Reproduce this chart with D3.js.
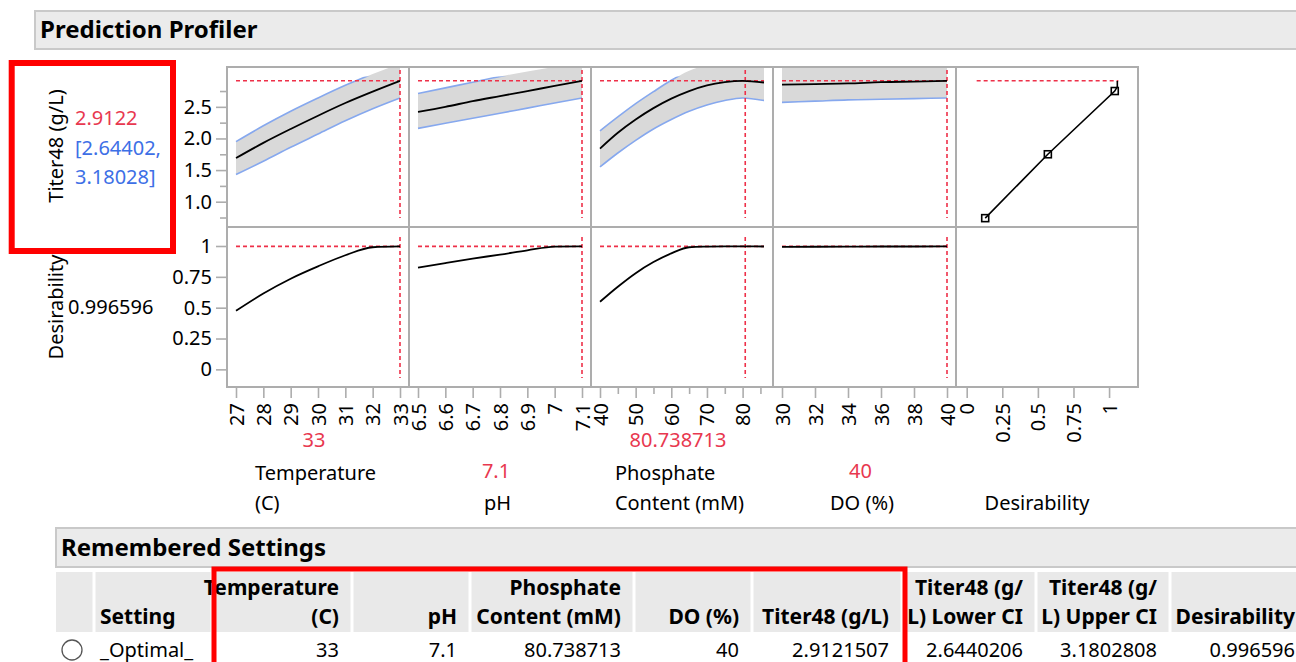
<!DOCTYPE html>
<html lang="en">
<head>
<meta charset="UTF-8">
<script src="https://cdn.jsdelivr.net/npm/d3@7"></script>
<style>
  body { margin: 0; background: #fff; }
  svg text { font-family: "Segoe UI", "Noto Sans", sans-serif; font-size: 20px; fill: #000; }
</style>
</head>
<body>
<svg width="1296" height="662"></svg>
<script>
// ---- profile traces ----
var temps     = [27, 28, 29, 30, 31, 32, 33];
var titerTemp = [1.69, 1.93, 2.15, 2.36, 2.56, 2.74, 2.91];
var lowerTemp = [1.43, 1.64, 1.86, 2.07, 2.28, 2.47, 2.64];
var upperTemp = [1.95, 2.20, 2.43, 2.64, 2.84, 3.02, 3.18];
var desTemp   = [0.475, 0.615, 0.735, 0.835, 0.925, 0.99, 0.997];

var phs     = [6.5, 6.6, 6.7, 6.8, 6.9, 7.0, 7.1];
var titerPh = [2.42, 2.50, 2.59, 2.67, 2.75, 2.83, 2.91];
var lowerPh = [2.16, 2.24, 2.32, 2.40, 2.48, 2.56, 2.64];
var upperPh = [2.71, 2.80, 2.89, 2.98, 3.06, 3.13, 3.18];
var desPh   = [0.824, 0.862, 0.898, 0.93, 0.965, 0.995, 0.997];

var phosphate = [40, 45, 50, 55, 60, 65, 70, 75, 80, 86];
var titerPhos = [1.84, 2.09, 2.30, 2.48, 2.63, 2.75, 2.84, 2.89, 2.91, 2.885];
var lowerPhos = [1.55, 1.77, 1.97, 2.15, 2.30, 2.43, 2.53, 2.60, 2.64, 2.60];
var upperPhos = [2.12, 2.34, 2.55, 2.74, 2.92, 3.07, 3.16, 3.20, 3.18, 3.17];
var desPhos   = [0.548, 0.67, 0.78, 0.87, 0.94, 0.99, 0.995, 0.997, 0.997, 0.996];

var dos     = [30, 32, 34, 36, 38, 40];
var titerDo = [2.85, 2.86, 2.87, 2.89, 2.90, 2.91];
var lowerDo = [2.57, 2.59, 2.61, 2.62, 2.63, 2.64];
var upperDo = [3.13, 3.14, 3.15, 3.16, 3.17, 3.18];
var desDo   = [0.993, 0.994, 0.995, 0.996, 0.996, 0.997];

// desirability function of Titer48 (last point = current titer)
var desirX = [0.13, 0.57, 1.04, 1.058, 1.058];
var desirY = [0.74, 1.75, 2.75, 2.82, 2.91];

// current settings
var factorNames  = [["Temperature", "(C)"], ["pH"], ["Phosphate", "Content (mM)"], ["DO (%)"]];
var currentVals  = [33, 7.1, 80.738713, 40];
var currentText  = ["33", "7.1", "80.738713", "40"];
var titerNow = 2.9122, titerLo = "2.64402,", titerHi = "3.18028]";
var desNow = 0.996596;

// tick values
var tickTemp = [27, 28, 29, 30, 31, 32, 33];
var tickPh   = [6.5, 6.6, 6.7, 6.8, 6.9, 7.0, 7.1];
var tickPhos = [40, 50, 60, 70, 80], minorPhos = [45, 55, 65, 75, 85];
var tickDo   = [30, 32, 34, 36, 38, 40];
var tickDes  = [0, 0.25, 0.5, 0.75, 1];
var tickTiter = [1.0, 1.5, 2.0, 2.5], minorTiter = [0.75, 1.25, 1.75, 2.25, 2.75];
var tickD    = [0, 0.25, 0.5, 0.75, 1];

// remembered settings table
var tableHead1 = ["", "", "Temperature", "", "Phosphate", "", "", "Titer48 (g/", "Titer48 (g/", ""];
var tableHead2 = ["", "Setting", "(C)", "pH", "Content (mM)", "DO (%)", "Titer48 (g/L)", "L) Lower CI", "L) Upper CI", "Desirability"];
var tableRow   = ["", "_Optimal_", "33", "7.1", "80.738713", "40", "2.9121507", "2.6440206", "3.1802808", "0.996596"];

// ---- layout ----
var RED = "#ee3049", REDTXT = "#e8384f", BLUE = "#3d6fe6", CI = "#86a8ee", GRID = "#adadad";
var svg = d3.select("svg");
var colEdges = [227, 409, 591, 773, 956, 1138];
var rowTop = 67, rowMid = 227, rowBot = 387;

var yTop = d3.scaleLinear().domain([0.6, 3.13]).range([rowMid, rowTop]);
var yBot = d3.scaleLinear().domain([-0.143, 1.154]).range([rowBot, rowMid]);

var factors = [
  {xs: temps, m: titerTemp, lo: lowerTemp, hi: upperTemp, d: desTemp, ticks: tickTemp, minor: []},
  {xs: phs, m: titerPh, lo: lowerPh, hi: upperPh, d: desPh, ticks: tickPh, minor: []},
  {xs: phosphate, m: titerPhos, lo: lowerPhos, hi: upperPhos, d: desPhos, ticks: tickPhos, minor: minorPhos},
  {xs: dos, m: titerDo, lo: lowerDo, hi: upperDo, d: desDo, ticks: tickDo, minor: []}
];

// header boxes
function outlineBox(x, y, w, h, label) {
  svg.append("rect").attr("x", x).attr("y", y).attr("width", w).attr("height", h)
     .attr("fill", "#ebebeb").attr("stroke", "#c9c9c9").attr("stroke-width", 2);
  svg.append("text").attr("x", x + 5).attr("y", y + h / 2).attr("dy", "0.35em")
     .style("font-weight", "bold").style("font-size", "24px").text(label);
}
outlineBox(35, 11, 1270, 38, "Prediction Profiler");

var defs = svg.append("defs");

factors.forEach(function(f, i) {
  var x0 = colEdges[i], x1 = colEdges[i + 1];
  var x = d3.scaleLinear().domain(d3.extent(f.xs)).range([x0 + 9, x1 - 9]);

  // frames
  [[rowTop, rowMid], [rowMid, rowBot]].forEach(function(r) {
    svg.append("rect").attr("x", x0).attr("y", r[0]).attr("width", x1 - x0).attr("height", r[1] - r[0])
       .attr("fill", "#fff").attr("stroke", GRID).attr("stroke-width", 2);
  });

  defs.append("clipPath").attr("id", "clipF" + i).append("rect")
      .attr("x", x0 + 1).attr("y", rowTop + 1).attr("width", x1 - x0 - 2).attr("height", rowMid - rowTop - 2);
  defs.append("clipPath").attr("id", "clipL" + i).append("rect")
      .attr("x", x0 + 1).attr("y", yTop(2.98)).attr("width", x1 - x0 - 2).attr("height", rowMid - yTop(2.98));

  var idx = d3.range(f.xs.length);
  var band = d3.area().curve(d3.curveMonotoneX)
      .x(function(k) { return x(f.xs[k]); })
      .y0(function(k) { return yTop(f.lo[k]); })
      .y1(function(k) { return yTop(f.hi[k]); });
  svg.append("path").attr("d", band(idx)).attr("fill", "#d9d9d9").attr("clip-path", "url(#clipF" + i + ")");

  var lineOf = function(arr, ys) {
    return d3.line().curve(d3.curveMonotoneX)
      .x(function(k) { return x(f.xs[k]); })
      .y(function(k) { return ys(arr[k]); })(idx);
  };
  [f.lo, f.hi].forEach(function(arr) {
    svg.append("path").attr("d", lineOf(arr, yTop)).attr("fill", "none")
       .attr("stroke", CI).attr("stroke-width", 1.6).attr("clip-path", "url(#clipL" + i + ")");
  });

  // red reference lines
  var xr = x(currentVals[i]);
  var dash = "4,3";
  svg.append("line").attr("x1", x.range()[0]).attr("x2", x.range()[1])
     .attr("y1", yTop(titerNow)).attr("y2", yTop(titerNow))
     .attr("stroke", RED).attr("stroke-width", 1.6).attr("stroke-dasharray", dash);
  svg.append("line").attr("x1", xr).attr("x2", xr).attr("y1", rowTop + 3).attr("y2", rowMid - 9)
     .attr("stroke", RED).attr("stroke-width", 1.6).attr("stroke-dasharray", dash);
  svg.append("line").attr("x1", x.range()[0]).attr("x2", x.range()[1])
     .attr("y1", yBot(desNow)).attr("y2", yBot(desNow))
     .attr("stroke", RED).attr("stroke-width", 1.6).attr("stroke-dasharray", dash);
  svg.append("line").attr("x1", xr).attr("x2", xr).attr("y1", rowMid + 10).attr("y2", rowBot - 9)
     .attr("stroke", RED).attr("stroke-width", 1.6).attr("stroke-dasharray", dash);

  svg.append("path").attr("d", lineOf(f.m, yTop)).attr("fill", "none")
     .attr("stroke", "#000").attr("stroke-width", 1.8);
  svg.append("path").attr("d", lineOf(f.d, yBot)).attr("fill", "none")
     .attr("stroke", "#000").attr("stroke-width", 1.8);

  // x axis
  var ax = svg.append("g").attr("transform", "translate(0," + (rowBot + 1) + ")")
     .call(d3.axisBottom(x).tickValues(f.ticks).tickSize(10).tickSizeOuter(0).tickFormat(d3.format("")));
  ax.select(".domain").remove();
  ax.selectAll("line").attr("stroke", GRID).attr("stroke-width", 1.6);
  ax.selectAll("text").attr("transform", "rotate(-90)").attr("text-anchor", "end")
     .attr("x", -15).attr("y", 0).attr("dy", "0.35em").style("font-size", "20px");
  var mn = svg.append("g").attr("transform", "translate(0," + (rowBot + 1) + ")")
     .call(d3.axisBottom(x).tickValues(f.minor).tickSize(6).tickSizeOuter(0).tickFormat(""));
  mn.select(".domain").remove();
  mn.selectAll("line").attr("stroke", GRID).attr("stroke-width", 1.6);

  // factor labels
  var cx = (x0 + x1) / 2 - 4;
  var even = (i % 2 === 0);
  svg.append("text").attr("x", cx).attr("y", even ? 447 : 478).attr("text-anchor", "middle")
     .style("fill", REDTXT).text(currentText[i]);
  var names = factorNames[i];
  var g = svg.append("g");
  var tl = names.map(function(s, j) {
    return g.append("text").attr("y", names.length === 2 ? 480 + 30 * j : 510).text(s);
  });
  var w = d3.max(tl, function(t) { return t.node().getComputedTextLength(); });
  tl.forEach(function(t) { t.attr("x", cx - w / 2 + 1.5); });
});

// ---- desirability column ----
(function() {
  var x0 = colEdges[4], x1 = colEdges[5];
  var x = d3.scaleLinear().domain([0, 1.14]).range([x0 + 10.7, x1 - 9]);
  [[rowTop, rowMid], [rowMid, rowBot]].forEach(function(r) {
    svg.append("rect").attr("x", x0).attr("y", r[0]).attr("width", x1 - x0).attr("height", r[1] - r[0])
       .attr("fill", "#fff").attr("stroke", GRID).attr("stroke-width", 2);
  });
  svg.append("line").attr("x1", x(0.07)).attr("x2", x(1.065))
     .attr("y1", yTop(titerNow)).attr("y2", yTop(titerNow))
     .attr("stroke", RED).attr("stroke-width", 1.6).attr("stroke-dasharray", "4,3");
  var pts = d3.range(desirX.length);
  svg.append("path").attr("fill", "none").attr("stroke", "#000").attr("stroke-width", 1.6)
     .attr("d", d3.line().x(function(k) { return x(desirX[k]); }).y(function(k) { return yTop(desirY[k]); })(pts));
  svg.selectAll(".dpt").data(pts.slice(0, 3)).enter().append("rect").attr("class", "dpt")
     .attr("x", function(k) { return x(desirX[k]) - 3.5; }).attr("y", function(k) { return yTop(desirY[k]) - 3.5; })
     .attr("width", 7).attr("height", 7).attr("fill", "none").attr("stroke", "#000").attr("stroke-width", 1.6);

  var ax = svg.append("g").attr("transform", "translate(0," + (rowBot + 1) + ")")
     .call(d3.axisBottom(x).tickValues(tickDes).tickSize(10).tickSizeOuter(0).tickFormat(d3.format("")));
  ax.select(".domain").remove();
  ax.selectAll("line").attr("stroke", GRID).attr("stroke-width", 1.6);
  ax.selectAll("text").attr("transform", "rotate(-90)").attr("text-anchor", "end")
     .attr("x", -15).attr("y", 0).attr("dy", "0.35em").style("font-size", "20px");
  svg.append("text").attr("x", 1037).attr("y", 510).attr("text-anchor", "middle").text("Desirability");
})();

// ---- y axes ----
function yAxis(scale, major, minor, fmt) {
  var a = svg.append("g").attr("transform", "translate(" + (colEdges[0] - 1) + ",0)")
     .call(d3.axisLeft(scale).tickValues(major).tickSize(10).tickSizeOuter(0).tickFormat(fmt));
  a.select(".domain").remove();
  a.selectAll("line").attr("stroke", GRID).attr("stroke-width", 1.6);
  a.selectAll("text").attr("x", -14).style("font-size", "20px");
  var b = svg.append("g").attr("transform", "translate(" + (colEdges[0] - 1) + ",0)")
     .call(d3.axisLeft(scale).tickValues(minor).tickSize(6).tickSizeOuter(0).tickFormat(""));
  b.select(".domain").remove();
  b.selectAll("line").attr("stroke", GRID).attr("stroke-width", 1.6);
}
yAxis(yTop, tickTiter, minorTiter, d3.format(".1f"));
yAxis(yBot, tickD, [], d3.format(""));

// ---- response labels ----
svg.append("text").attr("transform", "translate(56,146) rotate(-90)").attr("text-anchor", "middle")
   .attr("dy", "0.35em").text("Titer48 (g/L)");
svg.append("text").attr("x", 75).attr("y", 125).style("fill", REDTXT).text(d3.format(".4f")(titerNow));
svg.append("text").attr("x", 75).attr("y", 155).style("fill", BLUE).text("[" + titerLo);
svg.append("text").attr("x", 75).attr("y", 184).style("fill", BLUE).text(titerHi);
svg.append("text").attr("transform", "translate(56,307) rotate(-90)").attr("text-anchor", "middle")
   .attr("dy", "0.35em").text("Desirability");
svg.append("text").attr("x", 68).attr("y", 314).text(desNow);

// ---- remembered settings ----
outlineBox(56, 528, 1250, 39, "Remembered Settings");
var tcols = [56, 94, 212, 352, 470, 634, 752, 902, 1036, 1170, 1308];
svg.append("rect").attr("x", 56).attr("y", 572).attr("width", 1244).attr("height", 60).attr("fill", "#e9e9e9");
tcols.slice(1, -1).forEach(function(c) {
  svg.append("line").attr("x1", c).attr("x2", c).attr("y1", 572).attr("y2", 632)
     .attr("stroke", "#fff").attr("stroke-width", 3);
});
tableHead2.forEach(function(h, j) {
  if (j === 0) return;
  var left = j === 1;
  var xx = left ? tcols[j] + 6 : tcols[j + 1] - 13;
  var anchor = left ? "start" : "end";
  if (tableHead1[j]) {
    svg.append("text").attr("x", xx).attr("y", 595).attr("text-anchor", anchor)
       .style("font-weight", "bold").style("font-size", "21px").text(tableHead1[j]);
  }
  svg.append("text").attr("x", xx).attr("y", 624).attr("text-anchor", anchor)
     .style("font-weight", "bold").style("font-size", "21px").text(h);
  svg.append("text").attr("x", xx).attr("y", 657).attr("text-anchor", anchor).text(tableRow[j]);
});
svg.append("circle").attr("cx", 72).attr("cy", 650).attr("r", 10)
   .attr("fill", "#fff").attr("stroke", "#555").attr("stroke-width", 1.3);

// ---- red highlight boxes ----
svg.append("rect").attr("x", 11.7).attr("y", 63).attr("width", 161.3).attr("height", 188)
   .attr("fill", "none").attr("stroke", "#ff0000").attr("stroke-width", 6);
svg.append("rect").attr("x", 214).attr("y", 569).attr("width", 691).attr("height", 120)
   .attr("fill", "none").attr("stroke", "#ff0000").attr("stroke-width", 5);
</script>
</body>
</html>
